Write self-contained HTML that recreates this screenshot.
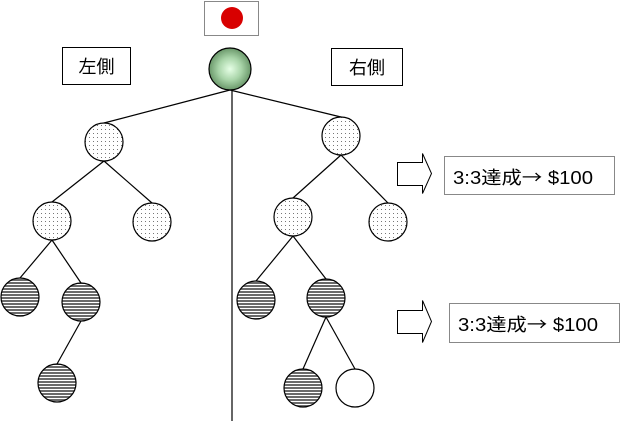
<!DOCTYPE html>
<html><head><meta charset="utf-8"><style>
html,body{margin:0;padding:0;background:#fff;}
svg{display:block;}
text{font-family:"Liberation Sans","Noto Sans CJK JP",sans-serif;}
</style></head><body>
<svg width="621" height="423" viewBox="0 0 621 423" xmlns="http://www.w3.org/2000/svg">
<defs>
<pattern id="dots" width="4" height="4" patternUnits="userSpaceOnUse">
<rect width="4" height="4" fill="#fff"/><rect x="1" y="1" width="1" height="1" fill="#777"/>
</pattern>
<pattern id="stripes" width="4" height="3" patternUnits="userSpaceOnUse">
<rect width="4" height="3" fill="#fff"/><rect y="0" width="4" height="2" fill="#6a6a6a"/>
</pattern>
<radialGradient id="g" cx="0.5" cy="0.5" r="0.55">
<stop offset="0" stop-color="#e6ffe6"/><stop offset="0.5" stop-color="#a8d4a8"/><stop offset="1" stop-color="#5c8a5c"/>
</radialGradient>
</defs>
<rect x="204.5" y="1.5" width="54" height="34" fill="#fff" stroke="#888"/>
<circle cx="232" cy="18" r="11" fill="#d80000"/>
<rect x="62.5" y="47.5" width="68" height="37" fill="#fff" stroke="#000"/>
<text x="96.5" y="73" font-size="18" text-anchor="middle">左側</text>
<rect x="331.5" y="48.5" width="71" height="37" fill="#fff" stroke="#000"/>
<text x="367" y="74" font-size="18" text-anchor="middle">右側</text>
<g stroke="#000" stroke-width="1.2" fill="none">
<line x1="232" y1="90" x2="232" y2="421"/>
<line x1="230" y1="90" x2="104" y2="123"/>
<line x1="230" y1="90" x2="341" y2="117"/>
<line x1="104" y1="161" x2="52" y2="202"/>
<line x1="104" y1="161" x2="152" y2="203"/>
<line x1="52" y1="240" x2="20" y2="278"/>
<line x1="52" y1="240" x2="81" y2="283"/>
<line x1="81" y1="321" x2="57" y2="364"/>
<line x1="341" y1="155" x2="293" y2="198"/>
<line x1="341" y1="155" x2="388" y2="203"/>
<line x1="293" y1="236" x2="256" y2="281"/>
<line x1="293" y1="236" x2="326" y2="279"/>
<line x1="326" y1="317" x2="303" y2="369"/>
<line x1="326" y1="317" x2="355" y2="369"/>
</g>
<g stroke="#000" stroke-width="1.2">
<circle cx="230" cy="69" r="21" fill="url(#g)"/>
<circle cx="104" cy="142" r="19" fill="url(#dots)"/>
<circle cx="341" cy="136" r="19" fill="url(#dots)"/>
<circle cx="52" cy="221" r="19" fill="url(#dots)"/>
<circle cx="152" cy="222" r="19" fill="url(#dots)"/>
<circle cx="293" cy="217" r="19" fill="url(#dots)"/>
<circle cx="388" cy="222" r="19" fill="url(#dots)"/>
<circle cx="20" cy="297" r="19" fill="url(#stripes)"/>
<circle cx="81" cy="302" r="19" fill="url(#stripes)"/>
<circle cx="57" cy="383" r="19" fill="url(#stripes)"/>
<circle cx="256" cy="300" r="19" fill="url(#stripes)"/>
<circle cx="326" cy="298" r="19" fill="url(#stripes)"/>
<circle cx="303" cy="388" r="19" fill="url(#stripes)"/>
<circle cx="355" cy="388" r="19" fill="#fff"/>
</g>
<g fill="#fff" stroke="#000" stroke-width="1">
<polygon points="397.5,162.5 422.5,162.5 422.5,153.5 431.5,173.5 422.5,193.5 422.5,185.5 397.5,185.5"/>
<polygon points="397.5,310.5 422.5,310.5 422.5,300.5 431.5,321.5 422.5,342.5 422.5,333.5 397.5,333.5"/>
</g>
<rect x="444.5" y="156.5" width="170" height="38" fill="#fff" stroke="#888"/>
<text x="453" y="184" font-size="18" textLength="140" lengthAdjust="spacingAndGlyphs">3:3達成<tspan font-family="Noto Sans CJK JP, sans-serif">→</tspan> $100</text>
<rect x="449.5" y="303.5" width="170" height="39" fill="#fff" stroke="#888"/>
<text x="458" y="331" font-size="18" textLength="140" lengthAdjust="spacingAndGlyphs">3:3達成<tspan font-family="Noto Sans CJK JP, sans-serif">→</tspan> $100</text>
</svg>
</body></html>
